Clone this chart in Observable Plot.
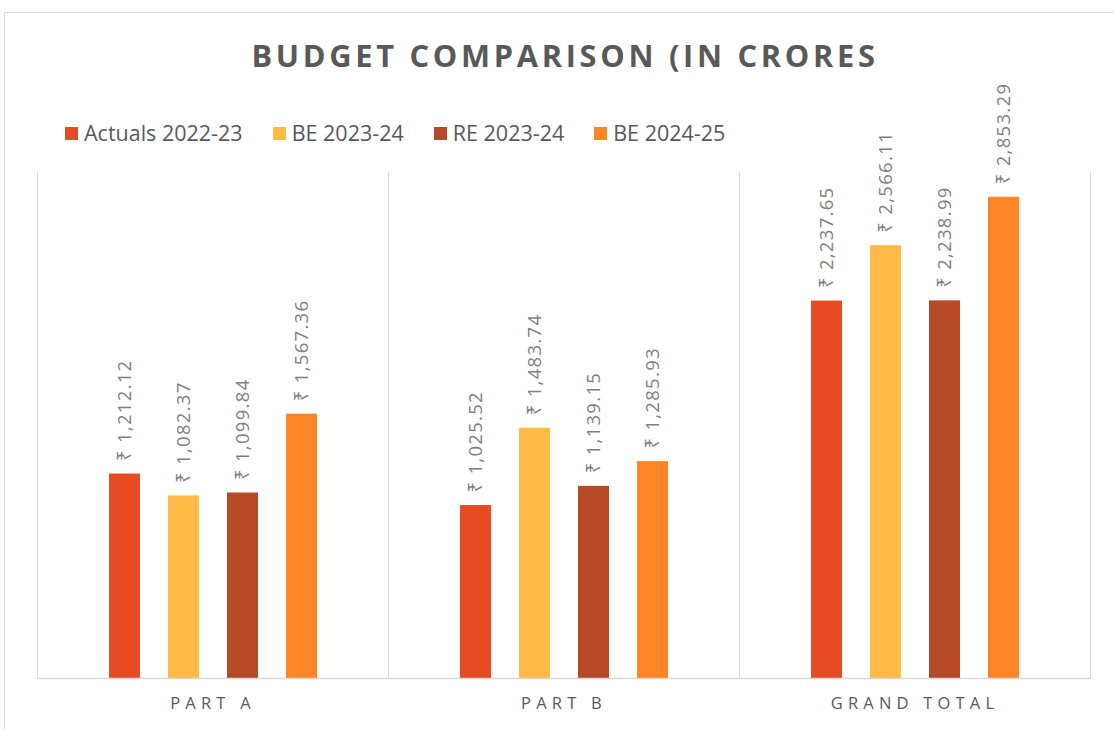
<!DOCTYPE html>
<html>
<head>
<meta charset="utf-8">
<script src="https://cdn.jsdelivr.net/npm/d3@7"></script>
<script src="https://cdn.jsdelivr.net/npm/@observablehq/plot@0.6"></script>
<style>
  html, body { margin: 0; padding: 0; background: #fff; }
  #wrap { position: relative; width: 1114px; height: 729px; overflow: hidden; font-family: "Open Sans", "Noto Sans", sans-serif; }
  #border { position: absolute; left: 4px; top: 12px; width: 1130px; height: 740px; border: 1px solid #d9d9d9; box-sizing: border-box; }
  #title { position: absolute; left: 8px; width: 1114px; top: 34px; text-align: center; font-size: 30.8px; line-height: 42px; font-weight: 700; color: #595959; letter-spacing: 3.7px; }
  #legend { position: absolute; left: 65px; top: 118px; display: flex; gap: 30px; font-size: 21.5px; line-height: 30px; color: #595959; }
  #legend .item { display: flex; align-items: center; gap: 6px; }
  #legend .sw { width: 13px; height: 13px; display: inline-block; }
  #chart { position: absolute; left: 0; top: 0; }
</style>
</head>
<body>
<div id="wrap">
  <div id="border"></div>
  <div id="chart"></div>
  <div id="title">BUDGET COMPARISON (IN CRORES</div>
  <div id="legend"></div>
</div>
<script>
const categories = ["PART A", "PART B", "GRAND TOTAL"];
const series = ["Actuals 2022-23", "BE 2023-24", "RE 2023-24", "BE 2024-25"];
const actuals2223 = [1212.12, 1025.52, 2237.65];
const be2324 = [1082.37, 1483.74, 2566.11];
const re2324 = [1099.84, 1139.15, 2238.99];
const be2425 = [1567.36, 1285.93, 2853.29];
const colors = ["#E64B23", "#FFBA47", "#B64A27", "#FE8528"];

const seriesValues = [actuals2223, be2324, re2324, be2425];
const data = [];
categories.forEach((c, i) => {
  series.forEach((s, j) => data.push({category: c, series: s, value: seriesValues[j][i]}));
});

const fmt = d => "₹ " + d3.format(",.2f")(d);

const chart = Plot.plot({
  width: 1114,
  height: 729,
  marginLeft: 37,
  marginRight: 24,
  marginTop: 172,
  marginBottom: 51,
  style: {fontFamily: '"Open Sans", "Noto Sans", sans-serif', background: "transparent"},
  fx: {domain: categories, padding: 0, label: null},
  x: {domain: series, paddingInner: 0.483, paddingOuter: 1.167, axis: null},
  y: {domain: [0, 3000], axis: null},
  color: {domain: series, range: colors},
  marks: [
    Plot.frame({anchor: "left", stroke: "#d9d9d9"}),
    Plot.frame({anchor: "right", stroke: "#d9d9d9"}),
    Plot.barY(data, {fx: "category", x: "series", y: "value", fill: "series"}),
    Plot.ruleY([0], {stroke: "#d9d9d9", strokeWidth: 1.5}),
    Plot.text(data, {fx: "category", x: "series", y: "value", text: d => fmt(d.value),
      rotate: -90, textAnchor: "start", dy: -13, fill: "#7f7f7f", fontSize: 18.5}),
    Plot.axisFx({anchor: "bottom", tickSize: 0, tickPadding: 19, fontSize: 16.5, color: "#595959", label: null})
  ]
});
document.getElementById("chart").appendChild(chart);
chart.querySelectorAll('[aria-label="fx-axis tick label"] text').forEach(t => {
  t.style.letterSpacing = "5.2px";
  t.setAttribute("fill", "#595959");
});
chart.querySelectorAll('[aria-label="text"] text').forEach(t => {
  t.style.letterSpacing = "1.3px";
});

const legend = document.getElementById("legend");
series.forEach((s, i) => {
  const item = document.createElement("div");
  item.className = "item";
  const sw = document.createElement("span");
  sw.className = "sw";
  sw.style.background = colors[i];
  const lab = document.createElement("span");
  lab.textContent = s;
  item.appendChild(sw);
  item.appendChild(lab);
  legend.appendChild(item);
});
</script>
</body>
</html>
